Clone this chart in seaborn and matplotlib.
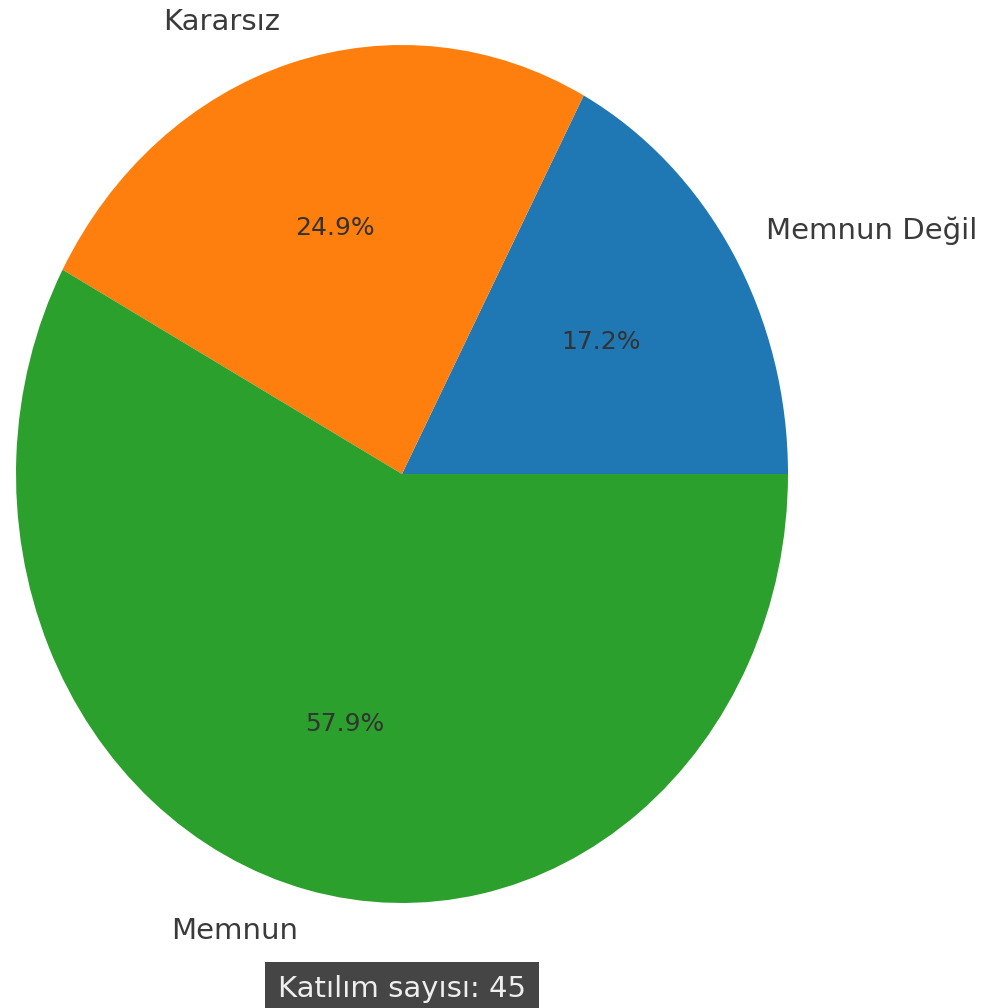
import matplotlib
matplotlib.use("Agg")
import matplotlib.pyplot as plt
import seaborn as sns

categories = ["Memnun Değil", "Kararsız", "Memnun"]
values = [17.2, 24.9, 57.9]
participants = 45

sns.set_theme(style="white")
plt.rcParams['font.family'] = ['DejaVu Sans']

colors = sns.color_palette("tab10", 3)

fig = plt.figure(figsize=(9.88, 10.08), dpi=100)
ax = fig.add_axes([16/988, 105/1008, 772/988, 858/1008])
wedges, texts, autotexts = ax.pie(values, labels=categories, colors=colors,
                                  autopct="%1.1f%%", startangle=0,
                                  labeldistance=1.1, pctdistance=0.6,
                                  wedgeprops={"linewidth": 0, "edgecolor": "none"},
                                  textprops={"fontsize": 21, "color": "#3a3a3a"})
for t in autotexts:
    t.set_fontsize(18)
    t.set_color("#333333")
ax.set_aspect("auto")
ax.set_xlim(-1, 1)
ax.set_ylim(-1, 1)
ax.axis("off")

ax.text(0.5, -0.1, f"Katılım sayısı: {participants}", transform=ax.transAxes,
        ha="center", va="center", fontsize=21, color="#eeeeee",
        bbox=dict(boxstyle="square,pad=0.45", facecolor="#454545", edgecolor="none"))

fig.savefig("out.png", dpi=100)
